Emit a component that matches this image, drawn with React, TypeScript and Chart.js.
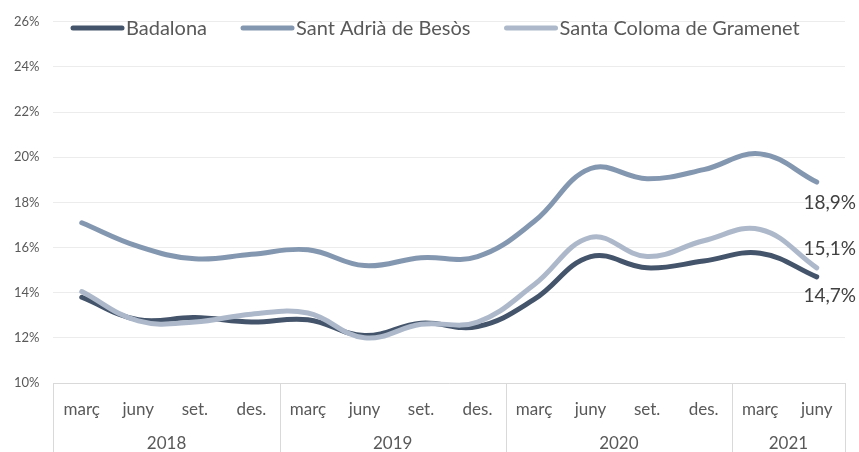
import React, { useEffect, useRef } from "react";
import { Chart, registerables } from "chart.js";

Chart.register(...registerables);

const months = ["març", "juny", "set.", "des.", "març", "juny", "set.", "des.", "març", "juny", "set.", "des.", "març", "juny"];
const years = ["2018", "2019", "2020", "2021"];
const yearSizes = [4, 4, 4, 2];

const badalona = [13.8, 12.8, 12.9, 12.7, 12.8, 12.1, 12.65, 12.5, 13.7, 15.6, 15.1, 15.4, 15.75, 14.7];
const santAdria = [17.1, 16.05, 15.5, 15.7, 15.9, 15.2, 15.55, 15.6, 17.15, 19.5, 19.05, 19.45, 20.15, 18.9];
const santaColoma = [14.05, 12.75, 12.7, 13.05, 13.1, 12.0, 12.6, 12.7, 14.35, 16.45, 15.6, 16.3, 16.8, 15.1];

const seriesNames = ["Badalona", "Sant Adrià de Besòs", "Santa Coloma de Gramenet"];
const seriesColors = ["#44546a", "#8497b0", "#adb9ca"];

const FONT = "Lato, 'Open Sans', sans-serif";
const TEXT = "#595959";

const legendPlugin = {
  id: "customLegend",
  afterDraw(chart: any) {
    const ctx = chart.ctx;
    ctx.save();
    ctx.font = `20px ${FONT}`;
    ctx.textBaseline = "middle";
    ctx.textAlign = "left";
    let x = 73;
    const y = 28;
    chart.data.datasets.forEach((ds: any) => {
      ctx.strokeStyle = ds.borderColor;
      ctx.lineWidth = 5;
      ctx.lineCap = "round";
      ctx.beginPath();
      ctx.moveTo(x, y);
      ctx.lineTo(x + 49, y);
      ctx.stroke();
      ctx.fillStyle = TEXT;
      ctx.fillText(ds.label, x + 53, y + 1);
      x += 53 + ctx.measureText(ds.label).width + 36;
    });
    ctx.restore();
  },
};

const endLabelPlugin = {
  id: "endLabels",
  afterDatasetsDraw(chart: any) {
    const ctx = chart.ctx;
    const offsets = [19, 21, -19];
    ctx.save();
    ctx.font = `19px ${FONT}`;
    ctx.fillStyle = "#404040";
    ctx.textAlign = "center";
    ctx.textBaseline = "middle";
    chart.data.datasets.forEach((ds: any, i: number) => {
      const meta = chart.getDatasetMeta(i);
      const last = meta.data[meta.data.length - 1];
      const v = ds.data[ds.data.length - 1];
      const txt = v.toFixed(1).replace(".", ",") + "%";
      ctx.fillText(txt, last.x + 13, last.y + offsets[i]);
    });
    ctx.restore();
  },
};

const xAxisPlugin = {
  id: "groupedXAxis",
  afterDraw(chart: any) {
    const ctx = chart.ctx;
    const area = chart.chartArea;
    const xs = chart.scales.x;
    const bottom = chart.height;
    ctx.save();
    ctx.strokeStyle = "#d9d9d9";
    ctx.lineWidth = 1;
    ctx.beginPath();
    ctx.moveTo(area.left, area.bottom + 0.5);
    ctx.lineTo(area.right, area.bottom + 0.5);
    ctx.stroke();
    const bounds: number[] = [area.left];
    let idx = 0;
    yearSizes.forEach((n, g) => {
      idx += n;
      if (g < yearSizes.length - 1) {
        bounds.push((xs.getPixelForValue(idx - 1) + xs.getPixelForValue(idx)) / 2);
      }
    });
    bounds.push(area.right);
    bounds.forEach((bx) => {
      const px = Math.round(bx) + 0.5;
      ctx.beginPath();
      ctx.moveTo(px, area.bottom);
      ctx.lineTo(px, bottom);
      ctx.stroke();
    });
    ctx.fillStyle = TEXT;
    ctx.textAlign = "center";
    ctx.textBaseline = "middle";
    ctx.font = `17px ${FONT}`;
    months.forEach((m, i) => {
      ctx.fillText(m, xs.getPixelForValue(i), area.bottom + 27);
    });
    years.forEach((yv, g) => {
      ctx.fillText(yv, (bounds[g] + bounds[g + 1]) / 2, area.bottom + 61);
    });
    ctx.restore();
  },
};

export default function App() {
  const ref = useRef<HTMLCanvasElement>(null);
  useEffect(() => {
    document.body.style.margin = "0";
    const seriesData = [badalona, santAdria, santaColoma];
    const chart = new Chart(ref.current!, {
      type: "line",
      data: {
        labels: months.map((m, i) => `${m}-${i}`),
        datasets: seriesData.map((d, i) => ({
          label: seriesNames[i],
          data: d,
          borderColor: seriesColors[i],
          backgroundColor: seriesColors[i],
          borderWidth: 5,
          pointRadius: 0,
          tension: 0.4,
          borderCapStyle: "round",
          borderJoinStyle: "round",
          order: 3 - i,
        })),
      },
      options: {
        animation: false,
        responsive: true,
        maintainAspectRatio: false,
        layout: { padding: { top: 19, bottom: 69, left: 0, right: 14 } },
        plugins: { legend: { display: false }, tooltip: { enabled: false } },
        scales: {
          x: { display: false, offset: true },
          y: {
            min: 10,
            max: 26,
            ticks: {
              stepSize: 2,
              callback: (v: any) => `${v}%`,
              color: TEXT,
              font: { family: FONT, size: 13 },
              padding: 14,
            },
            grid: { color: "#ececec", lineWidth: 1, drawTicks: false },
            border: { display: false },
          },
        },
      } as any,
      plugins: [legendPlugin, endLabelPlugin, xAxisPlugin],
    });
    return () => chart.destroy();
  }, []);
  return (
    <div style={{ width: 859, height: 452, position: "relative", background: "#fff" }}>
      <canvas ref={ref} />
    </div>
  );
}
